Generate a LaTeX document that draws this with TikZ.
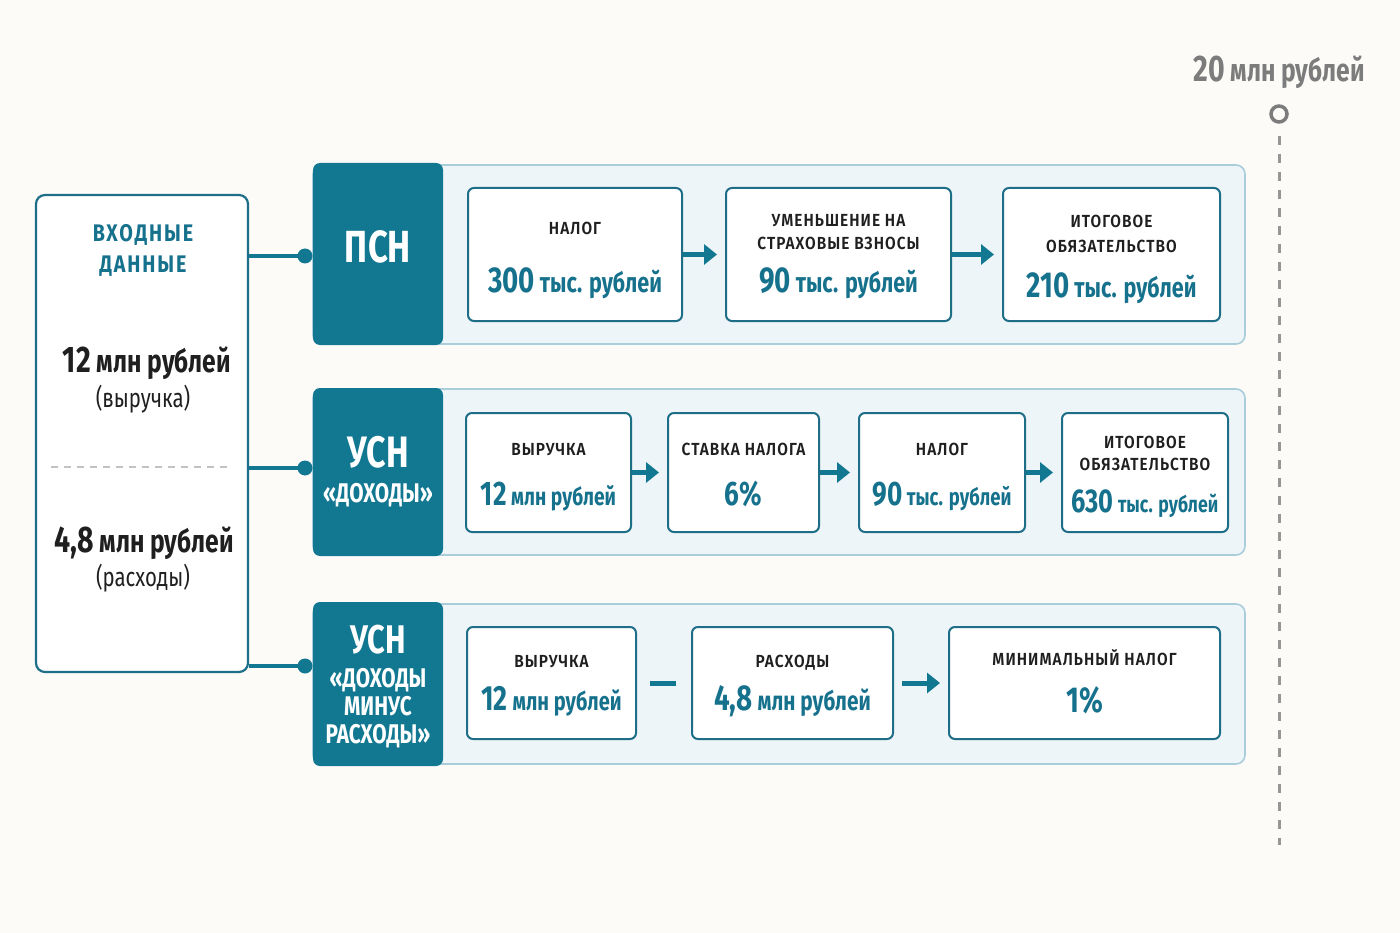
\documentclass[tikz,border=0pt]{standalone}
\usepackage{fontspec}
\setmainfont{Fira Sans}[FakeStretch=0.77]
\newfontfamily\midfont{Fira Sans SemiBold}[FakeStretch=0.88,LetterSpace=6]
\newfontfamily\headfont{Fira Sans Bold}[FakeStretch=0.82,LetterSpace=8]
\usetikzlibrary{arrows.meta,calc}
\definecolor{paper}{HTML}{FCFBF8}
\definecolor{tealdark}{HTML}{127891}
\definecolor{tealtext}{HTML}{16718D}
\definecolor{boxline}{HTML}{1E6E88}
\definecolor{panelfill}{HTML}{EEF5F8}
\definecolor{panelline}{HTML}{A9CDDA}
\definecolor{ink}{HTML}{1F1F1F}
\definecolor{scalegray}{HTML}{7C7C7C}
\definecolor{sepgray}{HTML}{C2C2C2}
\newcommand\bignum[2]{{\fontsize{#1}{#1}\selectfont #2}}

\begin{document}
\begin{tikzpicture}[x=1pt,y=-1pt]
                      \tikzstyle{panel}=[draw=panelline,fill=panelfill,line width=1.6pt,rounded corners=9pt,inner sep=0pt]
                      \tikzstyle{block}=[fill=tealdark,rounded corners=7pt,minimum width=130pt,inner sep=0pt]
                      \tikzstyle{blocktext}=[anchor=base,text=white,font=\bfseries\fontsize{27}{27}\selectfont,inner sep=0pt]
                      \tikzstyle{stepbox}=[draw=boxline,fill=white,line width=2pt,rounded corners=6pt,inner sep=0pt]
                      \tikzstyle{ttl}=[anchor=base,text=ink,font=\midfont\fontsize{17.5}{17.5}\selectfont,inner sep=0pt]
                      \tikzstyle{val}=[anchor=base,text=tealtext,font=\bfseries\fontsize{28}{28}\selectfont,inner sep=0pt]
                      \tikzstyle{arr}=[draw=tealdark,line width=5pt,-{Triangle[length=13pt,width=20pt]},shorten >=8pt]
                      \tikzstyle{link}=[draw=tealdark,line width=4pt]
                      \tikzstyle{dot}=[circle,fill=tealdark,inner sep=0pt,minimum size=15pt]
                      \fill[paper] (0,0) rectangle (1400,933);
                      \useasboundingbox (0,0) rectangle (1400,933);
                      % input data
                      \node[draw=boxline,fill=white,line width=2.2pt,rounded corners=9pt,minimum width=212pt,minimum height=477pt] (inp) at (142,433.5) {};
                      \node[anchor=base,text=tealtext,font=\headfont\fontsize{24}{24}\selectfont] (inpa) at (143,242) {ВХОДНЫЕ};
                      \node[anchor=base,text=tealtext,font=\headfont\fontsize{24}{24}\selectfont] (inpb) at (143,273) {ДАННЫЕ};
                      \node[anchor=base,text=ink,font=\bfseries\fontsize{32}{32}\selectfont] (rev) at (147,372) {\bignum{37}{12} млн рублей};
                      \node[anchor=base,text=ink,font=\fontsize{26.5}{26.5}\selectfont] (revl) at (143,407) {(выручка)};
                      \draw[sepgray,line width=1.6pt,dash pattern=on 7pt off 6pt] (51,467) -- (233,467);
                      \node[anchor=base,text=ink,font=\bfseries\fontsize{32}{32}\selectfont] (exp) at (144,552) {\bignum{37}{4,8} млн рублей};
                      \node[anchor=base,text=ink,font=\fontsize{26.5}{26.5}\selectfont] (expl) at (143,586) {(расходы)};
                      % panels
                      \node[panel,minimum width=932pt,minimum height=179pt] (row1) at (779,254.5) {};
                      \node[panel,minimum width=932pt,minimum height=166pt] (row2) at (779,472) {};
                      \node[panel,minimum width=932pt,minimum height=160pt] (row3) at (779,684) {};
                      \node[block,minimum height=182pt] (b1) at (378,254) {};
                      \node[block,minimum height=168pt] (b2) at (378,472) {};
                      \node[block,minimum height=164pt] (b3) at (378,684) {};
                      \node[blocktext,font=\bfseries\fontsize{45}{45}\selectfont] (b1a) at (378,263) {ПСН};
                      \node[blocktext,font=\bfseries\fontsize{44}{44}\selectfont] (b2a) at (378,467) {УСН};
                      \node[blocktext] (b2b) at (378,502) {«ДОХОДЫ»};
                      \node[blocktext,font=\bfseries\fontsize{40}{40}\selectfont] (b3a) at (378,653) {УСН};
                      \node[blocktext] (b3b) at (378,687) {«ДОХОДЫ};
                      \node[blocktext] (b3c) at (378,715) {МИНУС};
                      \node[blocktext] (b3d) at (378,743) {РАСХОДЫ»};
                      % links
                      \node[dot] (d1) at (305,256) {};
                      \node[dot] (d2) at (305,468) {};
                      \node[dot] (d3) at (305,666) {};
                      \draw[link] (inp.east |- d1) -- (d1.center);
                      \draw[link] (inp.east |- d2) -- (d2.center);
                      \draw[link] (inp.east |- d3) -- (d3.center);
                      % row 1
                      \node[stepbox,minimum width=214pt,minimum height=133pt] (p1) at (575,254.5) {};
                      \node[stepbox,minimum width=225pt,minimum height=133pt] (p2) at (838.5,254.5) {};
                      \node[stepbox,minimum width=217pt,minimum height=133pt] (p3) at (1111.5,254.5) {};
                      \node[ttl] (p1a) at (575,235) {НАЛОГ};
                      \node[val] (p1v) at (575,293) {\bignum{36}{300} тыс. рублей};
                      \node[ttl] (p2a) at (838.5,227) {УМЕНЬШЕНИЕ НА};
                      \node[ttl] (p2b) at (838.5,250) {СТРАХОВЫЕ ВЗНОСЫ};
                      \node[val] (p2v) at (838.5,293) {\bignum{36}{90} тыс. рублей};
                      \node[ttl] (p3a) at (1111.5,228) {ИТОГОВОЕ};
                      \node[ttl] (p3b) at (1111.5,253) {ОБЯЗАТЕЛЬСТВО};
                      \node[val] (p3v) at (1111.5,298) {\bignum{36}{210} тыс. рублей};
                      \draw[arr] (p1) -- (p2);
                      \draw[arr] (p2) -- (p3);
                      % row 2
                      \node[stepbox,minimum width=165pt,minimum height=119pt] (u1) at (548.5,472.5) {};
                      \node[stepbox,minimum width=151pt,minimum height=119pt] (u2) at (743.5,472.5) {};
                      \node[stepbox,minimum width=166pt,minimum height=119pt] (u3) at (942,472.5) {};
                      \node[stepbox,minimum width=166pt,minimum height=119pt] (u4) at (1145,472.5) {};
                      \node[ttl] (u1a) at (548.5,455) {ВЫРУЧКА};
                      \node[val,font=\bfseries\fontsize{25}{25}\selectfont] (u1v) at (548.5,505) {\bignum{34}{12} млн рублей};
                      \node[ttl] (u2a) at (743.5,455) {СТАВКА НАЛОГА};
                      \node[val] (u2v) at (743.5,505) {\bignum{34}{6\%}};
                      \node[ttl] (u3a) at (942,455) {НАЛОГ};
                      \node[val,font=\bfseries\fontsize{24}{24}\selectfont] (u3v) at (942,505) {\bignum{34}{90} тыс. рублей};
                      \node[ttl] (u4a) at (1145,448) {ИТОГОВОЕ};
                      \node[ttl] (u4b) at (1145,470) {ОБЯЗАТЕЛЬСТВО};
                      \node[val,font=\bfseries\fontsize{23}{23}\selectfont] (u4v) at (1145,512) {\bignum{33}{630} тыс. рублей};
                      \draw[arr] (u1) -- (u2);
                      \draw[arr] (u2) -- (u3);
                      \draw[arr] (u3) -- (u4);
                      % row 3
                      \node[stepbox,minimum width=169pt,minimum height=112pt] (r1) at (551.5,683) {};
                      \node[stepbox,minimum width=201pt,minimum height=112pt] (r2) at (792.5,683) {};
                      \node[stepbox,minimum width=271pt,minimum height=112pt] (r3) at (1084.5,683) {};
                      \node[ttl] (r1a) at (551.5,667) {ВЫРУЧКА};
                      \node[val,font=\bfseries\fontsize{26}{26}\selectfont] (r1v) at (551.5,710) {\bignum{35}{12} млн рублей};
                      \node[ttl] (r2a) at (792.5,667) {РАСХОДЫ};
                      \node[val,font=\bfseries\fontsize{27}{27}\selectfont] (r2v) at (792.5,710) {\bignum{36}{4,8} млн рублей};
                      \node[ttl] (r3a) at (1084.5,665) {МИНИМАЛЬНЫЙ НАЛОГ};
                      \node[val] (r3v) at (1084.5,712) {\bignum{36}{1\%}};
                      \draw[draw=tealdark,line width=5pt,shorten <=13pt,shorten >=15pt] (r1) -- (r2);
                      \draw[arr,shorten <=8pt] (r2) -- (r3);
                      % scale
                      \node[anchor=base,text=scalegray,font=\bfseries\fontsize{32}{32}\selectfont] (lim) at (1279,82) {\bignum{37}{20} млн рублей};
                      \node[circle,draw=scalegray,line width=3.5pt,fill=paper,minimum size=16pt,inner sep=0pt] (mark) at (1279,114) {};
                      \coordinate (limend) at (1279,845);
                      \draw[draw=scalegray!80,line width=3pt,dash pattern=on 9pt off 9pt,shorten <=12pt] (mark) -- (limend);
                  \end{tikzpicture}
\end{document}
